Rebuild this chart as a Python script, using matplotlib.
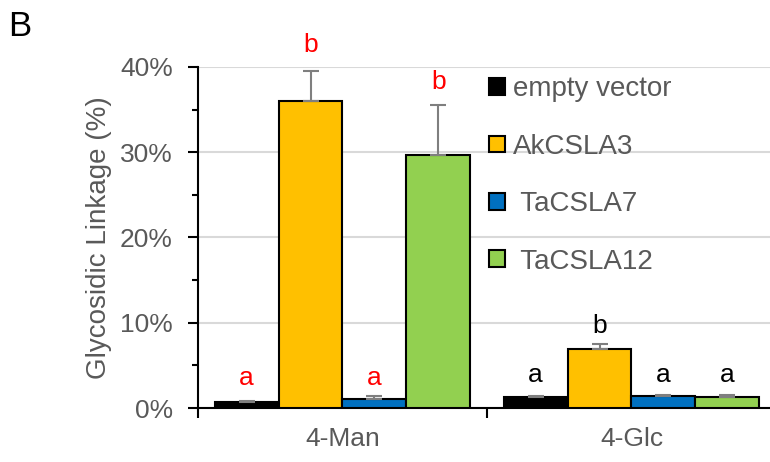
import matplotlib
matplotlib.use("Agg")
import matplotlib.pyplot as plt
import numpy as np
from matplotlib.ticker import MultipleLocator, FuncFormatter

plt.rcParams['font.family'] = ['Liberation Sans', 'DejaVu Sans']

categories = ["4-Man", "4-Glc"]
series = ["empty vector", "AkCSLA3", " TaCSLA7", " TaCSLA12"]
colors = ["#000000", "#FFC000", "#0070C0", "#92D050"]
values = {
    "empty vector": [0.7, 1.3],
    "AkCSLA3": [36.0, 6.9],
    " TaCSLA7": [1.0, 1.35],
    " TaCSLA12": [29.7, 1.3],
}
errors = {
    "empty vector": [0.08, 0.15],
    "AkCSLA3": [3.5, 0.6],
    " TaCSLA7": [0.35, 0.2],
    " TaCSLA12": [5.8, 0.2],
}
letters = {
    "empty vector": ["a", "a"],
    "AkCSLA3": ["b", "b"],
    " TaCSLA7": ["a", "a"],
    " TaCSLA12": ["b", "a"],
}
letter_y = {
    "empty vector": [3.5, 3.9],
    "AkCSLA3": [42.6, 9.6],
    " TaCSLA7": [3.5, 3.9],
    " TaCSLA12": [38.2, 3.9],
}
letter_colors = ["red", "black"]

fig = plt.figure(figsize=(7.7, 4.62), dpi=100)
ax = fig.add_axes([198/770, 1-408/462, 578/770, 341/462])

x = np.arange(len(categories))
w = 0.221
gray = "#595959"
fs = 19
for i, s in enumerate(series):
    pos = x + (i - 1.5) * w
    ax.bar(pos, values[s], width=w, color=colors[i], edgecolor="black",
           linewidth=1.5, label=s, zorder=3)
    ax.errorbar(pos, values[s], yerr=[np.zeros(len(categories)), errors[s]],
                fmt="none", ecolor="#7f7f7f", elinewidth=1.5, capsize=6,
                capthick=1.5, zorder=4)
    for j in range(len(categories)):
        ax.text(pos[j], letter_y[s][j], letters[s][j], ha="center", va="center",
                color=letter_colors[j], fontsize=fs, clip_on=False)

ax.set_ylim(0, 40)
ax.set_xlim(-0.5, 1.5)
ax.yaxis.set_major_locator(MultipleLocator(10))
ax.yaxis.set_minor_locator(MultipleLocator(5))
ax.yaxis.set_major_formatter(FuncFormatter(lambda v, p: f"{v:.0f}%"))
ax.grid(axis="y", color="#d9d9d9", linewidth=1.5, zorder=0)
ax.set_axisbelow(True)
for sp in ["top", "right"]:
    ax.spines[sp].set_visible(False)
ax.spines["left"].set_linewidth(1.5)
ax.spines["bottom"].set_linewidth(1.5)
ax.tick_params(axis="y", which="major", length=7, width=1.5, labelsize=fs,
               labelcolor=gray, pad=11)
ax.tick_params(axis="y", which="minor", length=4, width=1.5)
ax.set_xticks([-0.5, 0.5, 1.5])
ax.set_xticklabels([])
ax.set_xticks(x, minor=True)
ax.set_xticklabels(categories, minor=True)
ax.tick_params(axis="x", which="major", length=7, width=1.5)
ax.tick_params(axis="x", which="minor", length=0, labelsize=fs,
               labelcolor=gray, pad=14)
ax.set_ylabel("Glycosidic Linkage (%)", fontsize=fs + 1, color=gray, labelpad=6)

leg = ax.legend(loc="upper left", bbox_to_anchor=(0.485, 1.005), frameon=False,
                fontsize=fs + 1, labelcolor=gray, handlelength=0.55,
                handleheight=0.55, handletextpad=0.3, labelspacing=1.13,
                borderaxespad=0)

fig.text(8/770, 1-27/462, "B", fontsize=25, color="black", va="center",
         ha="left")

fig.savefig("out.png", dpi=100)
